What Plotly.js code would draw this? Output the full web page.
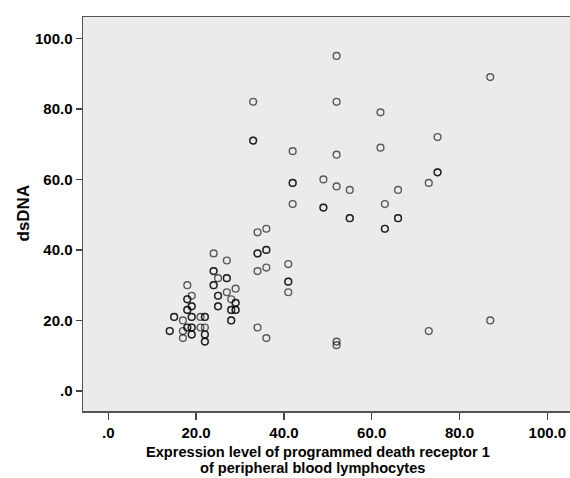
<!DOCTYPE html>
<html>
<head>
<meta charset="utf-8">
<script src="https://cdn.plot.ly/plotly-3.0.1.min.js"></script>
<style>
html,body{margin:0;padding:0;background:#fff;}
#chart{width:570px;height:478px;}
</style>
</head>
<body>
<div id="chart"></div>
<script>
// PD-1 expression level (x) vs dsDNA (y)
var pd1 = [52,87,33,52,62,75,33,33,62,42,52,75,75,49,42,42,73,52,55,66,42,63,49,49,55,55,66,66,63,63,36,34,36,36,34,34,24,27,41,36,34,24,24,25,27,27,41,41,18,24,24,29,27,41,19,25,25,18,18,28,29,29,19,19,25,25,18,18,28,28,29,29,15,15,19,19,21,22,22,17,28,28,87,14,14,17,18,18,19,19,21,22,34,73,19,19,22,22,17,36,22,22,52,52];
var dsDNA = [95,89,82,82,79,72,71,71,69,68,67,62,62,60,59,59,59,58,57,57,53,53,52,52,49,49,49,49,46,46,46,45,40,40,39,39,39,37,36,35,34,34,34,32,32,32,31,31,30,30,30,29,28,28,27,27,27,26,26,26,25,25,24,24,24,24,23,23,23,23,23,23,21,21,21,21,21,21,21,20,20,20,20,17,17,17,18,18,18,18,18,18,18,17,16,16,16,16,15,15,14,14,14,13];
var tickVals = [0,20,40,60,80,100];
var tickText = ['.0','20.0','40.0','60.0','80.0','100.0'];
var xTitle1 = 'Expression level of programmed death receptor 1';
var xTitle2 = 'of peripheral blood lymphocytes';
var yTitle = 'dsDNA';

var font = 'Liberation Sans, Arial, sans-serif';

var trace = {
  x: pd1, y: dsDNA, type: 'scatter', mode: 'markers',
  marker: {symbol: 'circle-open', size: 6.8, color: 'rgba(0,0,0,0.62)', line: {width: 1.4, color: 'rgba(0,0,0,0.62)'}},
  hoverinfo: 'none'
};

var layout = {
  width: 570, height: 478,
  margin: {l: 83, r: 0, t: 17, b: 67},
  paper_bgcolor: '#ffffff',
  plot_bgcolor: '#ebebeb',
  showlegend: false,
  xaxis: {
    range: [-5.76, 105.17], tickvals: tickVals, ticktext: tickText,
    showgrid: false, zeroline: false,
    showline: true, mirror: true, linecolor: '#555', linewidth: 1.5,
    ticks: 'outside', ticklen: 7, tickwidth: 1.5, tickcolor: '#444',
    tickfont: {family: font, size: 15, color: '#000', weight: 'bold'}
  },
  yaxis: {
    range: [-5.67, 106.04], tickvals: tickVals, ticktext: tickText,
    showgrid: false, zeroline: false,
    showline: true, mirror: false, linecolor: '#555', linewidth: 1.5,
    ticks: 'outside', ticklen: 6, tickwidth: 1.5, tickcolor: '#444',
    tickfont: {family: font, size: 15, color: '#000', weight: 'bold'}
  },
  annotations: [
    {text: xTitle1, xref: 'paper', yref: 'paper', x: (317.5-83)/487, y: (411-452)/394, xanchor: 'center', yanchor: 'middle', showarrow: false,
     font: {family: font, size: 14.6, color: '#000', weight: 'bold'}},
    {text: xTitle2, xref: 'paper', yref: 'paper', x: (312-83)/487, y: (411-467.5)/394, xanchor: 'center', yanchor: 'middle', showarrow: false,
     font: {family: font, size: 14.6, color: '#000', weight: 'bold'}},
    {text: yTitle, xref: 'paper', yref: 'paper', x: (22.5-83)/487, y: (411-213)/394, xanchor: 'center', yanchor: 'middle', textangle: -90, showarrow: false,
     font: {family: font, size: 17, color: '#000', weight: 'bold'}}
  ]
};

Plotly.newPlot('chart', [trace], layout, {staticPlot: true, displayModeBar: false});
</script>
</body>
</html>
